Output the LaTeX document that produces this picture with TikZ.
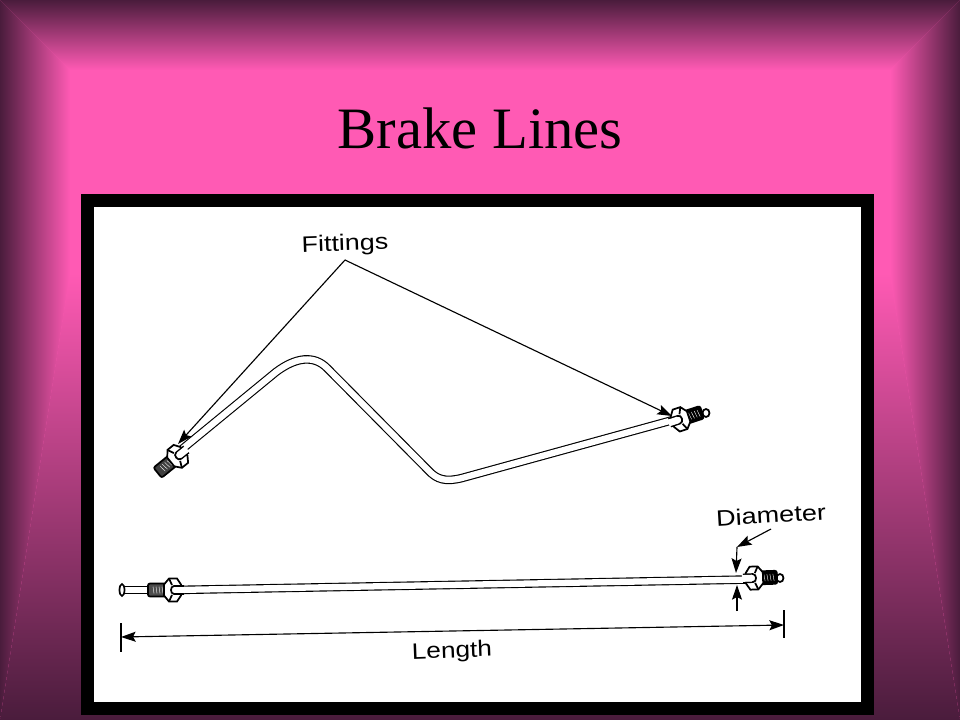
\documentclass[tikz,border=0pt]{standalone}
\usepackage{fontspec}
\setmainfont{Liberation Serif}
\newfontfamily\labelfont{Liberation Sans}
\usetikzlibrary{arrows.meta}

\definecolor{bevelpink}{HTML}{FF5AB4}
\definecolor{beveldark}{HTML}{4A1C3C}
\pgfdeclareverticalshading{bevel}{100bp}{color(0bp)=(bevelpink); color(25bp)=(bevelpink); color(75bp)=(beveldark); color(100bp)=(beveldark)}

\tikzset{
	lbl/.style={font=\labelfont\fontsize{16.8}{20}\selectfont, inner sep=0pt},
	tube/.style={line width=.85pt, double=white, double distance=4.7pt},
	part/.style={line width=1.3pt},
	tip/.tip={Stealth[length=11pt,width=7.5pt,inset=2pt]},
	lead/.style={line width=.85pt, -tip},
	stem/.style={line width=.85pt}
}

% x, y, angle, thread length, thread colour
\newcommand{\fitting}[5]{
	\begin{scope}[shift={(#1,#2)},rotate=#3]
		\draw [part,fill=#5,rounded corners=1.5pt] (6,-6.5) rectangle (#4,6.5);
		\foreach \hatch in {9,12,...,18}
			\draw [white,line width=.3pt] (\hatch,-3.5) -- (\hatch+1,3.5);
		\draw [part,fill=white] (-5,-11.5) -- (3,-11.5) -- (8,-5.5) -- (8,5.5) -- (3,11.5) -- (-5,11.5) -- (-9,5.5) -- (-9,-5.5) -- cycle;
		\draw [part] (3,-11.5) -- (0,-5);
		\draw [part] (3,11.5) -- (0,5);
		\draw [part,fill=white] (-12,-4) -- (-2,-4) .. controls (2,-4) and (2,4) .. (-2,4) -- (-12,4);
		\fill [white] (-13,-3.4) rectangle (-3,3.4);
	\end{scope}
}

\begin{document}
\begin{tikzpicture}[x=.75pt,y=-.75pt]
	\useasboundingbox (0,0) rectangle (960,720);
	% background
	\fill [bevelpink] (0,0) rectangle (960,720);
	\shade [shading=bevel] (0,0) -- (960,0) -- (890,70) -- (70,70) -- cycle;
	\shade [shading=bevel,shading angle=180] (0,720) -- (960,720) -- (890,273) -- (70,273) -- cycle;
	\shade [shading=bevel,shading angle=90] (0,0) -- (70,70) -- (70,273) -- (0,720) -- cycle;
	\shade [shading=bevel,shading angle=270] (960,0) -- (890,70) -- (890,273) -- (960,720) -- cycle;
	\node (title) at (480,128) {\fontsize{44}{50}\selectfont Brake Lines};
	% panel
	\fill [black] (81,194) rectangle (874,715);
	\fill [white] (94,207) rectangle (861,702);
	% bent line
	\draw [tube] (181,450) -- (276,372) .. controls (296,357) and (314,355) .. (327,368)
		-- (428,470) .. controls (437,480) and (446,482) .. (462,478) -- (673,420);
	\fitting{177}{457}{219}{25}{black!75}
	\draw [part,fill=white] (706,413) ellipse (3.5 and 4);
	\fitting{681}{419}{18}{22}{black}
	% straight line
	\draw [part,fill=white] (122,586.5) -- (149,586.5) -- (149,593.5) -- (122,593.5) -- cycle;
	\draw [part,fill=white] (122,590) ellipse (2.5 and 6);
	\draw [tube] (175,590) -- (750,579.5);
	\fitting{172}{590}{180}{24}{black!70}
	\draw [part,fill=white] (780,578) ellipse (3.5 and 4);
	\fitting{755}{578}{2}{22}{black}
	% labels and leaders
	\node [lbl,rotate=2,xscale=1.2] (fittings) at (345,245) {Fittings};
	\coordinate (apex) at (345,260);
	\coordinate (fitleft) at (178,444);
	\coordinate (fitright) at (672,416);
	\draw [lead] (apex) -- (fitleft);
	\draw [lead] (apex) -- (fitright);
	\node [lbl,rotate=3.5,xscale=1.21] (diameter) at (771,515) {Diameter};
	\coordinate (diatop) at (771,529);
	\coordinate (diabend) at (737,547);
	\coordinate (diaupper) at (736,573);
	\coordinate (dialower) at (737,585);
	\coordinate (diatail) at (737,611);
	\draw [lead] (diatop) -- (diabend);
	\draw [lead] (diabend) -- (diaupper);
	\draw [lead] (diatail) -- (dialower);
	\node [lbl,rotate=2.2,xscale=1.17] (length) at (452,652) {Length};
	\coordinate (lenleft) at (121,637);
	\coordinate (lenright) at (784,625);
	\coordinate (barlefttop) at (121,623);
	\coordinate (barleftend) at (121,652);
	\coordinate (barrighttop) at (784,610);
	\coordinate (barrightend) at (784,638);
	\draw [stem] (barlefttop) -- (barleftend);
	\draw [stem] (barrighttop) -- (barrightend);
	\draw [stem,tip-tip] (lenleft) -- (lenright);
\end{tikzpicture}
\end{document}
